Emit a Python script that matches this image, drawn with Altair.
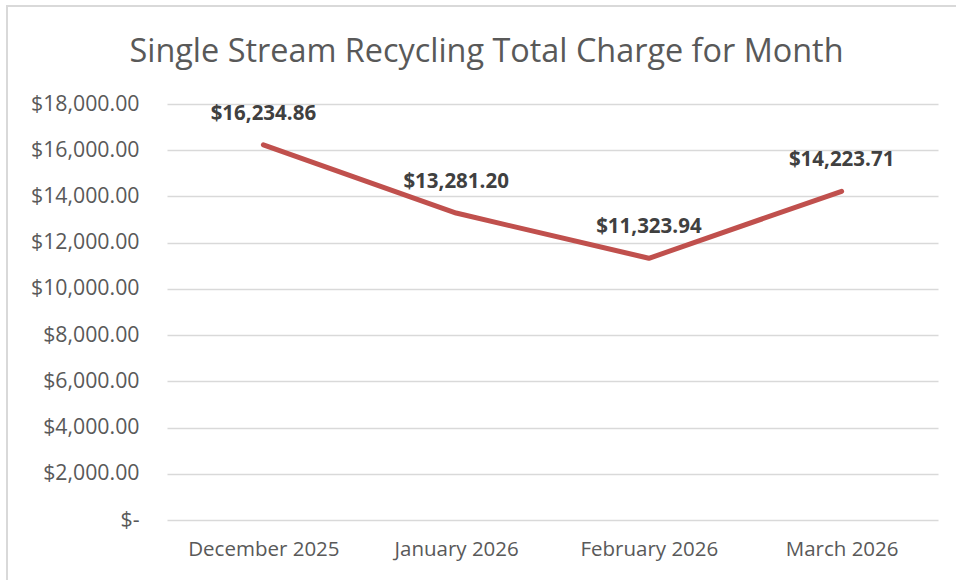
import altair as alt
import pandas as pd

months = ["December 2025", "January 2026", "February 2026", "March 2026"]
charges = [16234.86, 13281.20, 11323.94, 14223.71]
y_ticks = [0, 2000, 4000, 6000, 8000, 10000, 12000, 14000, 16000, 18000]

df = pd.DataFrame({"month": months, "charge": charges})
df["label"] = ["$" + f"{v:,.2f}" for v in charges]

FONT = "Open Sans"
GREY = "#595959"

x_enc = alt.X("month:N", sort=months, title=None,
              scale=alt.Scale(paddingInner=0, paddingOuter=0.5),
              axis=alt.Axis(labelAngle=0, labelFontSize=20.5, labelColor=GREY, labelFont=FONT,
                            domain=False, ticks=False, grid=False, labelPadding=19))
y_enc = alt.Y("charge:Q", title=None,
              scale=alt.Scale(domain=[0, 18000], nice=False, zero=True),
              axis=alt.Axis(values=y_ticks, labelFontSize=21.3, labelColor=GREY, labelFont=FONT,
                            domain=False, ticks=False, gridColor="#d9d9d9", gridWidth=1.5,
                            labelPadding=28,
                            labelExpr="datum.value == 0 ? '$-' : '$' + format(datum.value, ',.2f')"))

border = alt.Chart(df).mark_rect(fill=None, stroke="#d9d9d9", strokeWidth=1.5).encode(
    x=alt.value(-160), x2=alt.value(800), y=alt.value(-98), y2=alt.value(490)
)

line = alt.Chart(df).mark_line(color="#C0504D", strokeWidth=5, strokeCap="round",
                               strokeJoin="round").encode(x=x_enc, y=y_enc)

labels = alt.Chart(df).mark_text(font=FONT, fontWeight="bold", fontSize=20.5, color="#404040",
                                 dy=-31, baseline="middle").encode(
    x=alt.X("month:N", sort=months), y="charge:Q", text="label:N")

chart = alt.layer(border, line, labels).properties(
    width=771, height=416,
    title=alt.TitleParams("Single Stream Recycling Total Charge for Month", font=FONT,
                          fontSize=32.4, fontWeight="normal", color=GREY, anchor="middle",
                          offset=-63, dx=-66),
    autosize=alt.AutoSizeParams(type="none"),
    padding={"left": 167, "top": 104, "right": 18, "bottom": 60},
).configure(background="white").configure_view(strokeWidth=0)

chart.save("out.html", embed_options={"renderer": "svg", "actions": False})
